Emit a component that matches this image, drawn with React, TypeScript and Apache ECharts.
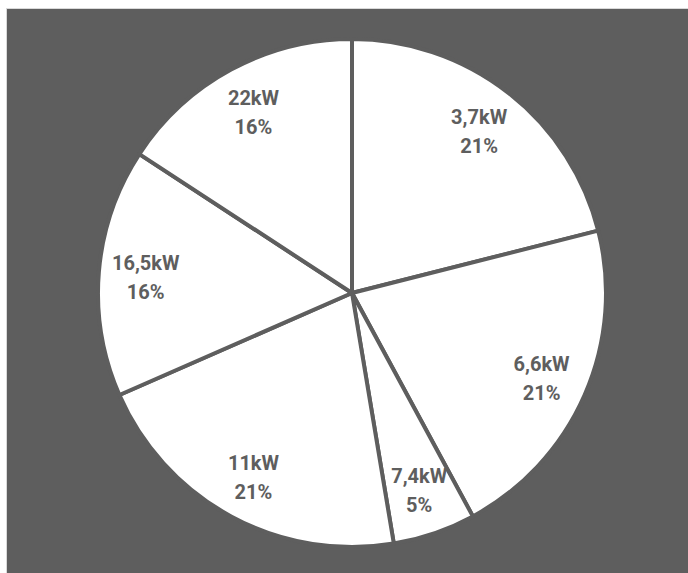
import React, { useEffect, useRef } from "react";
import * as echarts from "echarts";

const categories = ["3,7kW", "6,6kW", "7,4kW", "11kW", "16,5kW", "22kW"];
const values = [4, 4, 1, 4, 3, 3];

const BG = "#5e5e5e";

export default function App() {
  const ref = useRef<HTMLDivElement>(null);
  useEffect(() => {
    if (!ref.current) return;
    const chart = echarts.init(ref.current, null, { renderer: "svg" });
    const data = categories.map((c, i) => ({ name: c, value: values[i] }));
    chart.setOption({
      animation: false,
      backgroundColor: BG,
      series: [
        {
          type: "pie",
          center: [345, 284],
          radius: [0, 254],
          startAngle: 90,
          clockwise: true,
          silent: true,
          label: { show: false },
          labelLine: { show: false },
          emphasis: { disabled: true },
          itemStyle: { color: "#ffffff", borderColor: BG, borderWidth: 4 },
          data,
        },
        {
          type: "pie",
          center: [345, 286],
          radius: [154, 254],
          startAngle: 90,
          clockwise: true,
          silent: true,
          percentPrecision: 0,
          emphasis: { disabled: true },
          itemStyle: { color: "rgba(0,0,0,0)", borderWidth: 0 },
          labelLine: { show: false },
          label: {
            show: true,
            position: "inside",
            formatter: "{b}\n{d}%",
            color: BG,
            fontFamily: "Roboto",
            fontWeight: 700,
            fontSize: 20,
            lineHeight: 29,
            align: "center",
          },
          data,
        },
      ],
    });
    return () => chart.dispose();
  }, []);
  return (
    <div
      style={{
        position: "absolute",
        left: 6,
        top: 8,
        width: 682,
        height: 565,
        boxSizing: "border-box",
        borderLeft: "1px solid #d9d9d9",
        borderTop: "1px solid #d9d9d9",
        background: BG,
      }}
    >
      <div ref={ref} style={{ width: 681, height: 564 }} />
    </div>
  );
}
